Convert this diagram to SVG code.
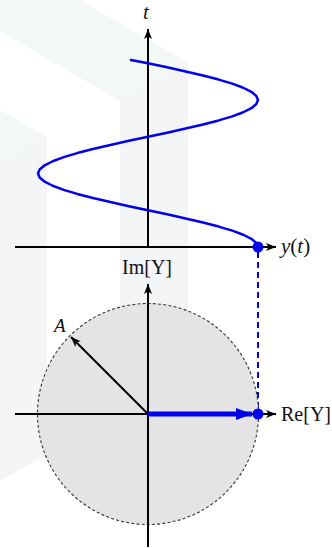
<svg xmlns="http://www.w3.org/2000/svg" width="332" height="548" viewBox="0 0 332 548">
<defs>
<style>
.ax{stroke:#000;stroke-width:2;fill:none}
.lbl{font-family:"Liberation Serif","DejaVu Serif",serif;fill:#111}
.it{font-style:italic}
</style>
<marker id="ah" viewBox="0 0 10 8" refX="10" refY="4" markerWidth="10" markerHeight="8" markerUnits="userSpaceOnUse" orient="auto">
<path d="M0,0 L10,4 L0,8 L2.5,4 Z" fill="#000"/>
</marker>
<marker id="bh" viewBox="0 0 16 12" refX="16" refY="6" markerWidth="16" markerHeight="12" markerUnits="userSpaceOnUse" orient="auto">
<path d="M0,0 L16,6 L0,12 Z" fill="#0000ee"/>
</marker>
</defs>
<rect width="332" height="548" fill="#fff"/>
<g id="watermark">
<polygon points="80,0 188,63 120,101 0,31 0,0" fill="#f3f8f4"/>
<polygon points="120,101 188,63 188,400 120,400" fill="#f4f5f7"/>
<polygon points="0,110 47,137 0,163" fill="#f3f8f4"/>
<polygon points="0,163 47,137 47,455 0,481" fill="#f4f5f7"/>
</g>
<g id="upper-plot">
<path class="ax" d="M15,247 H276" marker-end="url(#ah)"/>
<path class="ax" d="M148,247 V29" marker-end="url(#ah)"/>
<path d="M258,247 L256.33,242.92 L251.37,238.83 L243.26,234.75 L232.26,230.67 L218.71,226.58 L203,222.5 L185.62,218.42 L167.1,214.33 L148,210.25 L128.9,206.17 L110.38,202.08 L93,198 L77.29,193.92 L63.74,189.83 L52.74,185.75 L44.63,181.67 L39.67,177.58 L38,173.5 L39.67,169.42 L44.63,165.33 L52.74,161.25 L63.74,157.17 L77.29,153.08 L93,149 L110.38,144.92 L128.9,140.83 L148,136.75 L167.1,132.67 L185.62,128.58 L203,124.5 L218.71,120.42 L232.26,116.33 L243.26,112.25 L251.37,108.17 L256.33,104.08 L258,100 L256.33,95.92 L251.37,91.83 L243.26,87.75 L232.26,83.67 L218.71,79.58 L203,75.5 L185.62,71.42 L167.1,67.33 L148,63.25 L131,60" fill="none" stroke="#0000ee" stroke-width="2.5" stroke-linejoin="round" stroke-linecap="round"/>
<text class="lbl it" x="146" y="19" font-size="21" text-anchor="middle">t</text>
<text class="lbl" x="281" y="253" font-size="21"><tspan font-style="italic">y</tspan>(<tspan font-style="italic">t</tspan>)</text>
</g>
<g id="connectors">
<path d="M258,252 V408" stroke="#0000ee" stroke-width="2" stroke-dasharray="6,4" fill="none"/>
</g>
<g id="lower-plot">
<circle cx="148" cy="414" r="110.5" fill="#e4e4e4" stroke="#333" stroke-width="1.1" stroke-dasharray="3,2.2"/>
<path class="ax" d="M15,414 H276" marker-end="url(#ah)"/>
<path class="ax" d="M148,547 V284" marker-end="url(#ah)"/>
<path d="M148,414 L71,337" stroke="#000" stroke-width="2" fill="none" marker-end="url(#ah)"/>
<path d="M148,414 H252" stroke="#0000ee" stroke-width="5" fill="none" marker-end="url(#bh)"/>
<text class="lbl" x="147" y="274" font-size="20" text-anchor="middle">Im[Y]</text>
<text class="lbl" x="281" y="421" font-size="20">Re[Y]</text>
<text class="lbl it" x="54" y="332" font-size="19">A</text>
</g>
<g id="dots">
<circle cx="258" cy="247" r="5.5" fill="#0000ee"/>
<circle cx="258" cy="414" r="5.5" fill="#0000ee"/>
</g>
</svg>
